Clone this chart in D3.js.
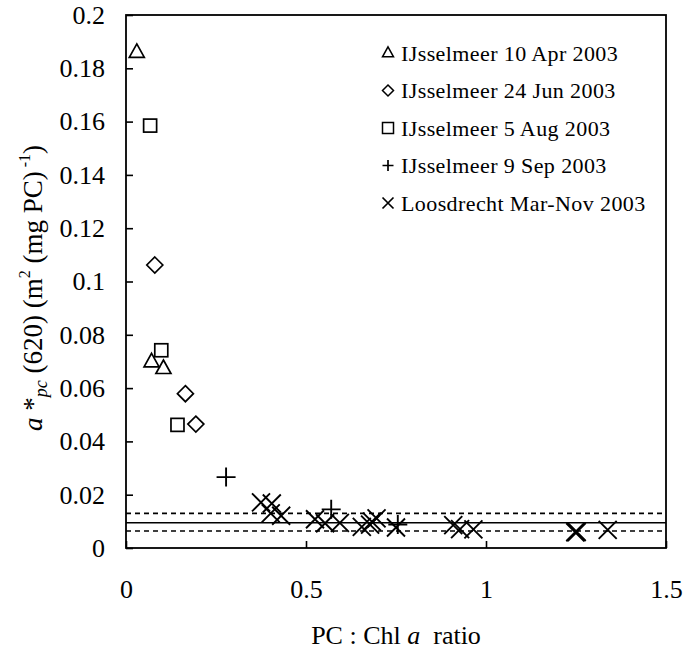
<!DOCTYPE html>
<html>
<head>
<meta charset="utf-8">
<script src="https://cdn.jsdelivr.net/npm/d3@7/dist/d3.min.js"></script>
<style>
  html, body { margin: 0; padding: 0; background: #fff; }
  svg { display: block; }
</style>
</head>
<body>
<svg id="chart" width="684" height="653"></svg>
<script>
// PC:Chl a ratio (x) vs. specific phycocyanin absorption a*pc(620) (y)
const seriesNames = [
  "IJsselmeer 10 Apr 2003",
  "IJsselmeer 24 Jun 2003",
  "IJsselmeer 5 Aug 2003",
  "IJsselmeer 9 Sep 2003",
  "Loosdrecht Mar-Nov 2003"
];
const seriesSymbols = ["triangle", "diamond", "square", "plus", "cross"];

const apr10 = [[0.030, 0.186], [0.071, 0.0699], [0.104, 0.0674]];
const jun24 = [[0.080, 0.1062], [0.165, 0.0579], [0.194, 0.0465]];
const aug05 = [[0.067, 0.1585], [0.098, 0.0742], [0.143, 0.0462]];
const sep09 = [[0.278, 0.0266], [0.570, 0.0145], [0.755, 0.0088]];
const loosdrecht = [
  [0.375, 0.0171], [0.405, 0.0167], [0.402, 0.0130], [0.431, 0.0121],
  [0.525, 0.0108], [0.553, 0.0093], [0.594, 0.0094], [0.655, 0.0079],
  [0.678, 0.0088], [0.683, 0.0099], [0.696, 0.0111], [0.750, 0.0077],
  [0.909, 0.0086], [0.928, 0.0071], [0.965, 0.0070],
  [1.248, 0.0059], [1.250, 0.0061], [1.252, 0.0060], [1.338, 0.0068]
];
const seriesData = [apr10, jun24, aug05, sep09, loosdrecht];

// mean and mean ± SD of the Loosdrecht specific absorption
const meanLine = 0.0095;
const sdLines = [0.0130, 0.0064];

const xTicks = [0, 0.5, 1, 1.5];
const yTicks = [0, 0.02, 0.04, 0.06, 0.08, 0.1, 0.12, 0.14, 0.16, 0.18, 0.2];

const FONT = "'Liberation Serif', 'DejaVu Serif', serif";

const svg = d3.select("#chart");
const margin = { left: 126, right: 18, top: 15, bottom: 105 };
const W = 684, H = 653;
const x = d3.scaleLinear().domain([0, 1.5]).range([margin.left, W - margin.right]);
const y = d3.scaleLinear().domain([0, 0.2]).range([H - margin.bottom, margin.top]);

// reference lines
svg.append("line")
  .attr("x1", x(0)).attr("x2", x(1.5))
  .attr("y1", y(meanLine)).attr("y2", y(meanLine))
  .attr("stroke", "#000").attr("stroke-width", 1.6);
svg.selectAll("line.sd").data(sdLines).join("line")
  .attr("class", "sd")
  .attr("x1", x(0)).attr("x2", x(1.5))
  .attr("y1", d => y(d)).attr("y2", d => y(d))
  .attr("stroke", "#000").attr("stroke-width", 1.6)
  .attr("stroke-dasharray", "5,4");

// axes with inward ticks
const yAxis = d3.axisLeft(y).tickValues(yTicks).tickSize(-7).tickPadding(21)
  .tickFormat(d => d === 0 ? "0" : String(+d.toFixed(2)));
const xAxis = d3.axisBottom(x).tickValues(xTicks).tickSize(-7).tickPadding(32)
  .tickFormat(d => String(d));

const gy = svg.append("g").attr("transform", `translate(${x(0)},0)`).call(yAxis);
const gx = svg.append("g").attr("transform", `translate(0,${y(0)})`).call(xAxis);
[gx, gy].forEach(g => {
  g.attr("font-family", FONT).attr("font-size", 26);
  g.select(".domain").remove();
  g.selectAll("line").attr("stroke", "#000").attr("stroke-width", 1.6);
  g.selectAll("text").attr("fill", "#000");
});

// frame
svg.append("rect")
  .attr("x", x(0)).attr("y", y(0.2))
  .attr("width", x(1.5) - x(0)).attr("height", y(0) - y(0.2))
  .attr("fill", "none").attr("stroke", "#000").attr("stroke-width", 1.8);

// marker shapes
function marker(sel, type, s) {
  const g = sel.append("g");
  const sw = s > 12 ? 1.7 : 1.5;
  if (type === "triangle") {
    const h = s * 0.9;
    g.append("path")
      .attr("d", `M0,${-h * 0.62}L${s / 2},${h * 0.38}L${-s / 2},${h * 0.38}Z`)
      .attr("fill", "none").attr("stroke", "#000").attr("stroke-width", sw);
  } else if (type === "diamond") {
    const r = s / 2;
    g.append("path")
      .attr("d", `M0,${-r}L${r},0L0,${r}L${-r},0Z`)
      .attr("fill", "none").attr("stroke", "#000").attr("stroke-width", sw);
  } else if (type === "square") {
    g.append("rect").attr("x", -s / 2).attr("y", -s / 2).attr("width", s).attr("height", s)
      .attr("fill", "none").attr("stroke", "#000").attr("stroke-width", sw);
  } else if (type === "plus") {
    const r = s / 2;
    g.append("path").attr("d", `M${-r},0H${r}M0,${-r}V${r}`)
      .attr("stroke", "#000").attr("stroke-width", sw + 0.2);
  } else if (type === "cross") {
    const r = s / 2;
    g.append("path").attr("d", `M${-r},${-r}L${r},${r}M${r},${-r}L${-r},${r}`)
      .attr("stroke", "#000").attr("stroke-width", sw + 0.2);
  }
  return g;
}

const markerSize = { triangle: 15, diamond: 16, square: 13, plus: 19, cross: 18 };

seriesData.forEach((data, i) => {
  const type = seriesSymbols[i];
  data.forEach(d => {
    marker(svg, type, markerSize[type])
      .attr("transform", `translate(${x(d[0])},${y(d[1])})`);
  });
});

// legend
const legend = svg.append("g").attr("font-family", FONT);
seriesNames.forEach((name, i) => {
  const cy = 53 + i * 37.5;
  marker(legend, seriesSymbols[i], 11).attr("transform", `translate(388,${cy})`);
  legend.append("text")
    .attr("x", 401).attr("y", cy).attr("dy", "0.35em")
    .attr("font-size", 22).attr("letter-spacing", 0.4)
    .text(name);
});

// x-axis title
const xt = svg.append("text")
  .attr("font-family", FONT)
  .style("white-space", "pre")
  .attr("x", (x(0) + x(1.5)) / 2).attr("y", 644)
  .attr("text-anchor", "middle").attr("font-size", 26);
xt.append("tspan").text("PC : Chl ");
xt.append("tspan").attr("font-style", "italic").text("a");
xt.append("tspan").text("  ratio");

// y-axis title
const yt = svg.append("text")
  .attr("font-family", FONT)
  .style("white-space", "pre")
  .attr("transform", "translate(33,288) rotate(-90)")
  .attr("text-anchor", "middle").attr("dy", "0.35em").attr("font-size", 27);
yt.append("tspan").attr("font-style", "italic").text("a");
yt.append("tspan").text(" *");
yt.append("tspan").attr("font-style", "italic").attr("font-size", 18).attr("dy", "5").text("pc");
yt.append("tspan").attr("dy", "-5").text(" (620) (m");
yt.append("tspan").attr("font-size", 16).attr("dy", "-12").text("2");
yt.append("tspan").attr("dy", "12").text(" (mg PC)");
yt.append("tspan").attr("font-size", 16).attr("dy", "-12").text(" -1");
yt.append("tspan").attr("dy", "12").text(")");
</script>
</body>
</html>
